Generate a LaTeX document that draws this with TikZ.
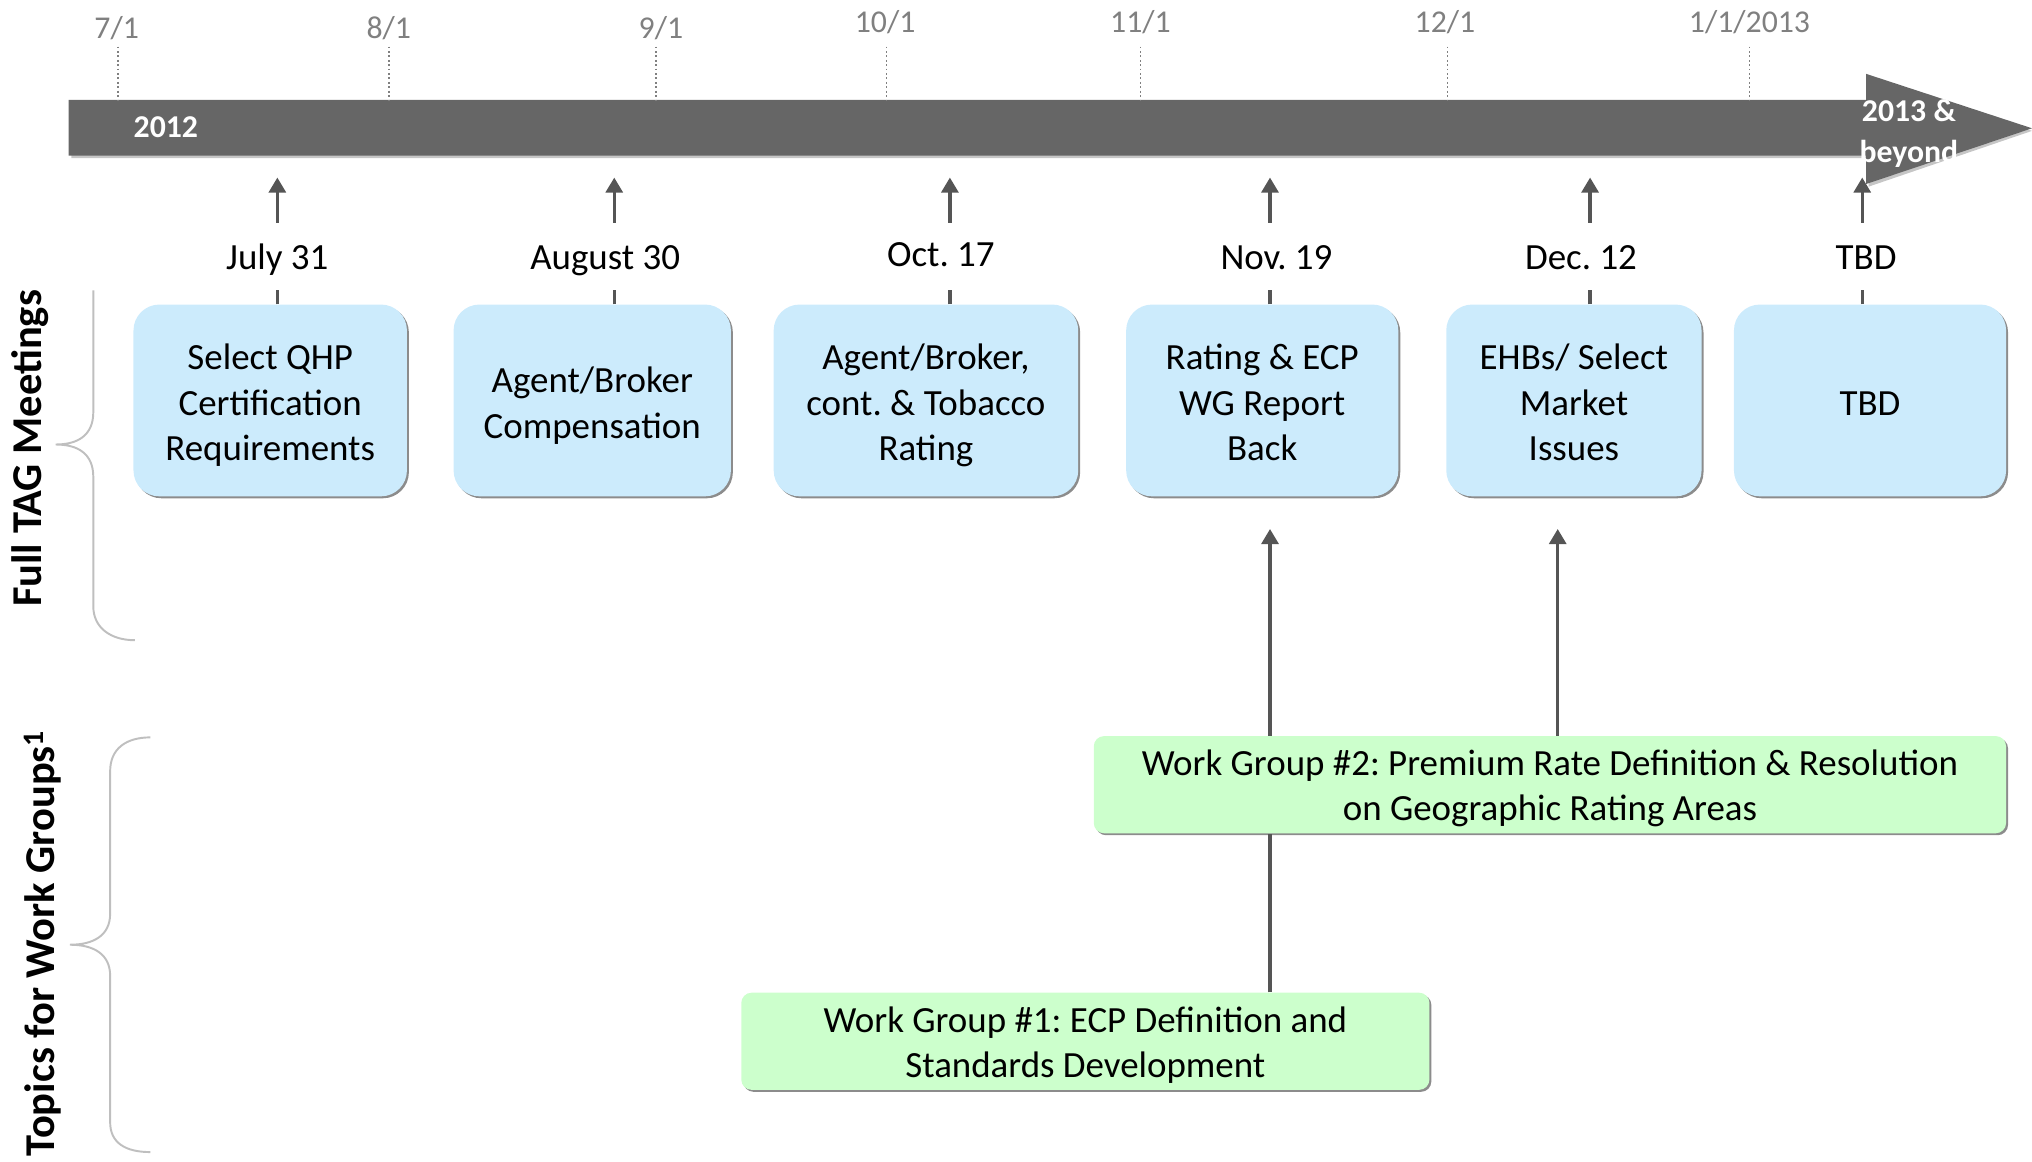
\documentclass[tikz,border=0pt]{standalone}
\usepackage{fontspec}
\setmainfont{Carlito}
\usetikzlibrary{arrows.meta,shadows}
\frenchspacing
\definecolor{barcol}{HTML}{666666}
\definecolor{arrcol}{HTML}{555555}
\definecolor{tickcol}{HTML}{808080}
\definecolor{boxblue}{HTML}{CCEBFC}
\definecolor{boxgreen}{HTML}{CCFFCC}
\definecolor{bracecol}{HTML}{BFBFBF}
\newcommand{\mainsz}{\fontsize{28.5}{35}\selectfont}
\newcommand{\ticksz}{\fontsize{24.5}{30}\selectfont}
\newcommand{\barsz}{\fontsize{24.5}{31}\selectfont\bfseries}
\newcommand{\sidesz}{\fontsize{32.8}{38}\selectfont\bfseries}
\newcommand{\bt}[2][-4.5pt]{\raisebox{#1}[\height][\depth]{\begin{tabular}{@{}c@{}}#2\end{tabular}}}
\begin{document}
\begin{tikzpicture}[x=1pt,y=-1pt,
  tagbox/.style={rounded corners=20pt, fill=boxblue, inner sep=0pt, font=\mainsz,
    minimum height=148pt, drop shadow={shadow xshift=1.5pt, shadow yshift=-1.5pt, fill=black, opacity=0.45}},
  wgbox/.style={rounded corners=8pt, fill=boxgreen, inner sep=0pt, font=\mainsz,
    minimum height=75pt, drop shadow={shadow xshift=1.5pt, shadow yshift=-1.5pt, fill=black, opacity=0.45}},
  datelbl/.style={anchor=base, inner sep=0pt, font=\mainsz},
  ticklbl/.style={anchor=base, inner sep=0pt, font=\ticksz, text=tickcol},
  tickline/.style={draw=tickcol, line width=1.4pt, dotted},
  uparr/.style={draw=arrcol, line width=2.6pt, -{Triangle[length=11.6pt,width=13pt]}},
  conn/.style={draw=arrcol, line width=2.6pt},
  bracestyle/.style={draw=bracecol, line width=1.5pt},
  sidelbl/.style={rotate=90, inner sep=0pt, font=\sidesz}]
\useasboundingbox (0,0) rectangle (1568,896);

% timeline bar
\fill[gray!45] (55,79) -- (1442,79) -- (1442,59) -- (1568,101) -- (1442,144) -- (1442,122) -- (55,122) -- cycle;
\fill[barcol] (53,77) -- (1440,77) -- (1440,57) -- (1568,99) -- (1440,142) -- (1440,120) -- (53,120) -- cycle;
\coordinate (bartop) at (0,77);
\coordinate (tipline) at (0,137);
\node[inner sep=0pt, font=\barsz, text=white] (y12) at (128,98) {2012};
\node[inner sep=0pt, font=\barsz, text=white, align=center] (y13) at (1473,103) {2013 \&\\beyond};

% month ticks
\node[ticklbl] (k1) at (90,30) {7/1};
\node[ticklbl] (k2) at (300,30) {8/1};
\node[ticklbl] (k3) at (510,30) {9/1};
\node[ticklbl] (k4) at (683,25) {10/1};
\node[ticklbl] (k5) at (880,25) {11/1};
\node[ticklbl] (k6) at (1115,25) {12/1};
\node[ticklbl] (k7) at (1350,25) {1/1/2013};
\foreach \i/\x in {1/91,2/300,3/506,4/684,5/880,6/1117,7/1350}{
  \coordinate (kt\i) at (\x,36);
  \draw[tickline] (kt\i) -- (kt\i |- bartop);
}

% date labels
\node[datelbl] (d1) at (214,208) {July 31};
\node[datelbl] (d2) at (467,208) {August 30};
\node[datelbl] (d3) at (726,206) {Oct. 17};
\node[datelbl] (d4) at (985,208) {Nov. 19};
\node[datelbl] (d5) at (1220,208) {Dec. 12};
\node[datelbl] (d6) at (1440,208) {TBD};

% TAG boxes
\node[tagbox, minimum width=211pt] (b1) at (208.5,309) {\bt{Select QHP\\Certification\\Requirements}};
\node[tagbox, minimum width=214pt] (b2) at (457,309) {\bt{Agent/Broker\\Compensation}};
\node[tagbox, minimum width=235pt] (b3) at (714.5,309) {\bt{Agent/Broker,\\cont. \& Tobacco\\Rating}};
\node[tagbox, minimum width=210pt] (b4) at (974,309) {\bt{Rating \& ECP\\WG Report\\Back}};
\node[tagbox, minimum width=197pt] (b5) at (1214.5,309) {\bt{EHBs/ Select\\Market\\Issues}};
\node[tagbox, minimum width=210pt] (b6) at (1443,309) {\bt[-5pt]{TBD}};

% arrows to timeline and connectors to boxes
\foreach \i/\x in {1/214,2/474,3/733,4/980,5/1227,6/1437}{
  \coordinate (u\i) at (\x,172);
  \draw[uparr] (u\i) -- (u\i |- tipline);
  \draw[conn] (u\i |- b\i.north) -- ++(0,-11);
}

% work group boxes
\node[wgbox, minimum width=704pt] (wg2) at (1196,605.5) {\bt[-3.5pt]{Work Group \#2: Premium Rate Definition \& Resolution\\on Geographic Rating Areas}};
\node[wgbox, minimum width=531pt] (wg1) at (837.5,803.5) {\bt[-3.5pt]{Work Group \#1: ECP Definition and\\Standards Development}};

\coordinate (w1) at (980,0);
\coordinate (w2) at (1202,0);
\draw[uparr, shorten >=25pt] (w1 |- wg2.north) -- (w1 |- b4.south);
\draw[uparr, shorten >=25pt] (w2 |- wg2.north) -- (w2 |- b5.south);
\draw[conn] (w1 |- wg1.north) -- (w1 |- wg2.south);

% braces
\draw[bracestyle] (72,224) -- (72,318) .. controls (72,336) and (60,343) .. (43,343)
  .. controls (60,343) and (72,350) .. (72,368) -- (72,468) .. controls (72,484) and (85,494) .. (104,494);
\draw[bracestyle] (116,569) .. controls (97,569) and (85,578) .. (85,595) -- (85,705)
  .. controls (85,722) and (72,729) .. (54,729) .. controls (72,729) and (85,736) .. (85,753)
  -- (85,866) .. controls (85,882) and (97,889) .. (116,889);

% side labels
\node[sidelbl] (s1) at (23,346) {Full TAG Meetings};
\node[sidelbl] (s2) at (33,728) {Topics for Work Groups\textsuperscript{1}};
\end{tikzpicture}
\end{document}
